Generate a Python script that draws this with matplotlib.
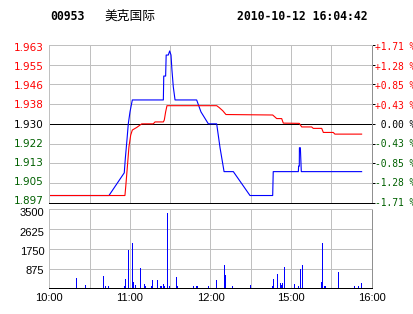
import matplotlib
matplotlib.use("Agg")
import matplotlib.pyplot as plt
from matplotlib.transforms import ScaledTranslation

# minutes since 10:00 (lunch break removed, 240 trading minutes)
price_min = [0, 44.4, 55.8, 56.6, 57.8, 58.8, 60.1, 61.8, 84.9, 85.2, 86.6, 87.0,
             88.6, 89.6, 90.6, 91.3, 92.3, 93.6, 109.7, 112.9, 118.4, 124.6, 127.1,
             130.1, 137.0, 149.4, 166.3, 166.7, 185.4, 185.6, 186.1, 186.2, 186.9,
             187.6, 232.5]
price_val = [1.900, 1.900, 1.9095, 1.9156, 1.9232, 1.930, 1.9351, 1.940, 1.940, 1.950,
             1.950, 1.9588, 1.9588, 1.9605, 1.9588, 1.9525, 1.9455, 1.940, 1.940,
             1.935, 1.930, 1.930, 1.920, 1.910, 1.910, 1.900, 1.900, 1.910, 1.910,
             1.9123, 1.9123, 1.920, 1.920, 1.910, 1.910]

avg_min = [0, 56.3, 56.9, 58.1, 59.3, 60.6, 61.8, 65.1, 68.8, 77.4, 78.7, 84.9, 85.6,
           86.6, 87.6, 124.6, 126.5, 129.1, 131.5, 166.3, 169.3, 173.0, 174.2, 186.1,
           187.9, 195.3, 196.5, 202.8, 204.0, 211.4, 212.6, 232.5]
avg_val = [1.900, 1.900, 1.9037, 1.912, 1.9204, 1.9253, 1.9274, 1.9285, 1.930, 1.930,
           1.9308, 1.9308, 1.9316, 1.935, 1.9376, 1.9376, 1.9368, 1.9355, 1.9339,
           1.9337, 1.9322, 1.9322, 1.9303, 1.9302, 1.9287, 1.9287, 1.9281, 1.9281,
           1.9264, 1.9264, 1.9257, 1.9257]

vol_min = [20.1, 26.8, 40.2, 41.7, 43.9, 55.8, 56.6, 58.8, 61.8, 62.5, 64.0, 67.7,
           70.7, 71.5, 75.9, 76.7, 80.4, 82.6, 83.4, 84.9, 85.6, 87.8, 89.3, 94.5,
           95.3, 107.2, 109.4, 110.2, 118.4, 124.3, 130.3, 131.0, 136.2, 149.6, 166.0,
           166.7, 169.7, 172.0, 172.7, 173.4, 174.9, 182.4, 185.4, 186.8, 188.3, 202.5,
           203.2, 204.7, 205.4, 215.1, 227.0, 230.0, 232.2]
vol_val = [440, 130, 530, 90, 90, 90, 400, 1680, 1990, 270, 130, 890, 180, 90, 90, 350,
           350, 90, 90, 180, 90, 3320, 90, 490, 90, 90, 90, 90, 90, 350, 1020, 580, 90,
           130, 90, 400, 620, 220, 130, 220, 930, 180, 90, 840, 1020, 270, 1990, 90, 90,
           710, 90, 90, 220]

prev_close = 1.930
price_ticks = [1.963, 1.95475, 1.9465, 1.93825, 1.930, 1.92175, 1.9135, 1.90525, 1.897]
price_labels = ["1.963", "1.955", "1.946", "1.938", "1.930", "1.922", "1.913", "1.905", "1.897"]
pct_labels = ["+1.71 %", "+1.28 %", "+0.85 %", "+0.43 %", " 0.00 %",
              "-0.43 %", "-0.85 %", "-1.28 %", "-1.71 %"]
vol_ticks = [875, 1750, 2625, 3500]
time_ticks = [0, 30, 60, 90, 120, 150, 180, 210, 240]
time_labels = ["10:00", "", "11:00", "", "12:00", "", "15:00", "", "16:00"]

RED = "#ff0000"
GREEN = "#006000"
GRID = "#c0c0c0"
lw = 0.72

plt.rcParams["lines.antialiased"] = False
plt.rcParams["patch.antialiased"] = False

fig = plt.figure(figsize=(4.14, 3.14), dpi=100)
ax = fig.add_axes([0.1191, 0.3545, 0.7787, 0.5022])
axv = fig.add_axes([0.1191, 0.0818, 0.7787, 0.2516])

def tick_color(p):
    if p > prev_close + 1e-9:
        return RED
    if p < prev_close - 1e-9:
        return GREEN
    return "black"

def shift_down(labels, top_px, bottom_px):
    # labels sit a bit tighter than the grid: slide from top_px to bottom_px
    n = len(labels)
    for i, lab in enumerate(labels):
        px = top_px + (bottom_px - top_px) * i / max(n - 1, 1)
        off = ScaledTranslation(0, -px / 100, fig.dpi_scale_trans)
        lab.set_transform(lab.get_transform() + off)

# price panel
ax.set_xlim(0, 240)
ax.set_ylim(price_ticks[-1], price_ticks[0])
ax.set_xticks(time_ticks)
ax.set_xticklabels([])
ax.set_yticks(price_ticks)
ax.set_yticklabels(price_labels, fontsize=7.5, family="DejaVu Sans")
ax.tick_params(axis="both", length=0)
ax.tick_params(axis="y", pad=3.8)
ax.grid(True, color=GRID, lw=lw)
ax.set_axisbelow(True)
for lab, p in zip(ax.get_yticklabels(), price_ticks):
    lab.set_color(tick_color(p))
shift_down(ax.get_yticklabels(), 2, -2.5)

ax.axhline(prev_close, color="black", lw=lw, zorder=2)
ax.plot(price_min, price_val, color="#0000ff", lw=0.8, antialiased=True, zorder=3)
ax.plot(avg_min, avg_val, color=RED, lw=0.8, antialiased=True, zorder=4)

ax2 = ax.twinx()
ax2.set_ylim(price_ticks[-1], price_ticks[0])
ax2.set_yticks(price_ticks)
ax2.set_yticklabels(pct_labels, fontsize=6.9, family="DejaVu Sans Mono")
ax2.tick_params(axis="y", length=2.2, width=lw, pad=0.2)
for t, lab, p in zip(ax2.yaxis.get_major_ticks(), ax2.get_yticklabels(), price_ticks):
    c = tick_color(p)
    lab.set_color(c)
    t.tick2line.set_color(c if c != "black" else "none")
shift_down(ax2.get_yticklabels(), 1.5, -1)

for a in (ax, ax2):
    a.spines["left"].set_color(GRID)
    a.spines["top"].set_color(GRID)
    a.spines["right"].set_color("#909090")
    a.spines["bottom"].set_color("black")
    for s in a.spines.values():
        s.set_linewidth(lw)

# volume panel
axv.vlines(vol_min, 0, vol_val, color="#0000ff", lw=lw, zorder=3)
axv.set_xlim(0, 240)
axv.set_ylim(0, 3500)
axv.set_xticks(time_ticks)
axv.set_xticklabels(time_labels, fontsize=8, family="Liberation Sans")
axv.set_yticks(vol_ticks)
axv.set_yticklabels([str(v) for v in vol_ticks], fontsize=8, family="Liberation Sans")
axv.tick_params(axis="both", length=0)
axv.tick_params(axis="y", pad=3.6)
axv.tick_params(axis="x", pad=3.5)
axv.grid(True, color=GRID, lw=lw)
axv.set_axisbelow(True)
shift_down(axv.get_yticklabels(), 1.5, 3)
axv.spines["left"].set_color(GRID)
axv.spines["top"].set_color(GRID)
axv.spines["right"].set_color("#909090")
axv.spines["bottom"].set_color("black")
for s in axv.spines.values():
    s.set_linewidth(lw)

# header
fig.text(50 / 414, 0.947, "00953", fontsize=8.3, family="DejaVu Sans Mono",
         weight="bold", va="center", ha="left")
fig.text(104.5 / 414, 0.949, "美克国际", fontsize=9.2, family=["Noto Sans CJK SC", "DejaVu Sans"],
         va="center", ha="left")
fig.text(237.5 / 414, 0.947, "2010-10-12 16:04:42", fontsize=8.3, family="DejaVu Sans Mono",
         weight="bold", va="center", ha="left")

fig.savefig("out.png", dpi=100, facecolor="white")
